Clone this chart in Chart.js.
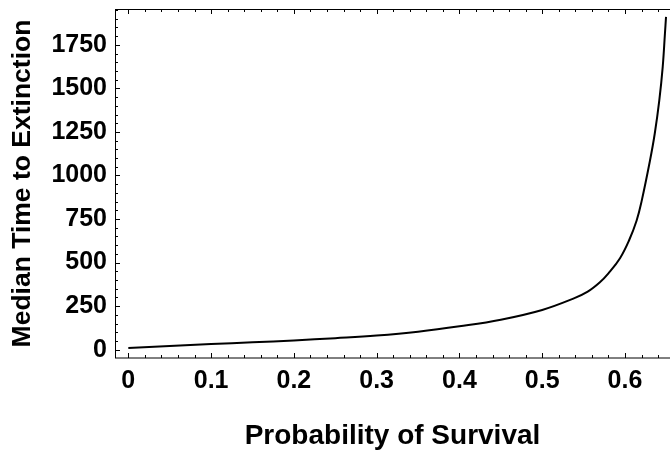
<!DOCTYPE html>
<html>
<head>
<meta charset="utf-8">
<script src="https://cdn.jsdelivr.net/npm/chart.js@4.4.1/dist/chart.umd.min.js"></script>
<style>
  html, body { margin: 0; padding: 0; background: #fff; }
  #wrap { width: 670px; height: 455px; }
</style>
</head>
<body>
<div id="wrap"><canvas id="plot"></canvas></div>
<script>
// values
const survival = [0, 0.05, 0.1, 0.15, 0.2, 0.25, 0.3, 0.35, 0.4, 0.45, 0.5, 0.5376, 0.555, 0.57, 0.58, 0.594, 0.605, 0.614, 0.62, 0.63, 0.636, 0.6415, 0.6456, 0.6483, 0.6496];
const medianTime = [9, 21, 32, 42, 53, 66, 81, 103, 134, 172, 228, 293, 333, 388, 438, 525, 628, 740, 850, 1080, 1241, 1433, 1624, 1816, 1911];

const xTicks = [0, 0.1, 0.2, 0.3, 0.4, 0.5, 0.6];
const yTicks = [0, 250, 500, 750, 1000, 1250, 1500, 1750];

const family = "'Liberation Sans', Arial, sans-serif";
const tickFont = { family: family, size: 25, weight: 'bold' };

// frame with inward ticks (bottom, top, left)
const frameTicks = {
    id: 'frameTicks',
    afterDraw: function (chart) {
        const ctx = chart.ctx;
        const a = chart.chartArea;
        const xs = chart.scales.x, ys = chart.scales.y;
        ctx.save();
        ctx.strokeStyle = '#000';
        ctx.lineWidth = 1;
        ctx.strokeRect(a.left + 0.5, a.top + 0.5, a.right - a.left, a.bottom - a.top - 0.5);

        ctx.beginPath();
        for (let i = -1; i <= 34; i++) {
            const v = i * 0.02;
            if (v < xs.min || v > xs.max) continue;
            const len = (i % 5 === 0) ? 5 : 3;
            const px = Math.round(xs.getPixelForValue(v)) + 0.5;
            ctx.moveTo(px, a.bottom); ctx.lineTo(px, a.bottom - len);
            ctx.moveTo(px, a.top); ctx.lineTo(px, a.top + len);
        }
        for (let i = -1; i <= 40; i++) {
            const v = i * 50;
            if (v < ys.min || v > ys.max) continue;
            const len = (i % 5 === 0) ? 5 : 3;
            const py = Math.round(ys.getPixelForValue(v)) + 0.5;
            ctx.moveTo(a.left, py); ctx.lineTo(a.left + len, py);
        }
        ctx.stroke();
        ctx.restore();
    }
};

new Chart(document.getElementById('plot'), {
    type: 'line',
    data: {
        datasets: [{
            data: survival.map((s, i) => ({ x: s, y: medianTime[i] })),
            borderColor: '#000',
            borderWidth: 2,
            pointRadius: 0,
            fill: false,
            tension: 0.4
        }]
    },
    options: {
        responsive: true,
        maintainAspectRatio: false,
        animation: false,
        layout: { padding: { top: 9, right: 0, left: 0, bottom: 0 } },
        plugins: { legend: { display: false }, tooltip: { enabled: false } },
        scales: {
            x: {
                type: 'linear',
                min: -0.0161,
                max: 0.6544,
                afterBuildTicks: s => { s.ticks = xTicks.map(v => ({ value: v })); },
                afterFit: s => { s.height = 97; s.paddingLeft = 0; s.paddingRight = 0; },
                grid: { display: false, drawTicks: false },
                border: { display: false },
                ticks: {
                    color: '#000',
                    font: tickFont,
                    padding: 8,
                    maxRotation: 0,
                    autoSkip: false,
                    callback: v => String(v)
                },
                title: {
                    display: true,
                    text: 'Probability of Survival',
                    color: '#000',
                    font: { family: family, size: 28, weight: 'bold' },
                    padding: { top: 0, bottom: 2 }
                }
            },
            y: {
                min: -48,
                max: 1956,
                afterBuildTicks: s => { s.ticks = yTicks.map(v => ({ value: v })); },
                afterFit: s => { s.width = 115; s.paddingTop = 0; s.paddingBottom = 0; },
                grid: { display: false, drawTicks: false },
                border: { display: false },
                ticks: {
                    color: '#000',
                    font: tickFont,
                    padding: 8,
                    autoSkip: false,
                    callback: v => String(v)
                },
                title: {
                    display: true,
                    text: 'Median Time to Extinction',
                    color: '#000',
                    font: { family: family, size: 26.5, weight: 'bold' },
                    padding: { top: 6.5, bottom: 0 }
                }
            }
        }
    },
    plugins: [frameTicks]
});
</script>
</body>
</html>
